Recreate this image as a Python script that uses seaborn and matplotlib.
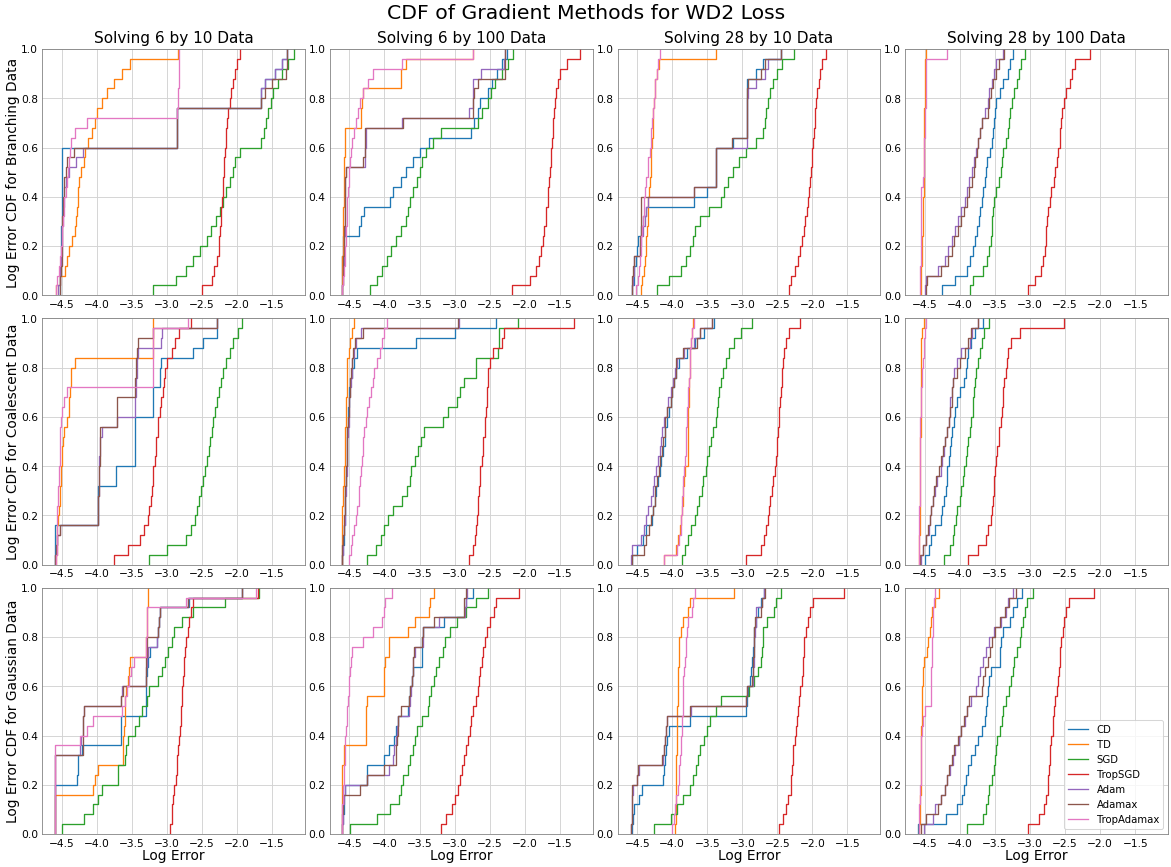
import matplotlib
matplotlib.use("Agg")
import matplotlib.pyplot as plt
import seaborn as sns
import pandas as pd

methods = ["CD", "TD", "SGD", "TropSGD", "Adam", "Adamax", "TropAdamax"]
colors = ["#1f77b4", "#ff7f0e", "#2ca02c", "#d62728", "#9467bd", "#8c564b", "#e377c2"]
col_titles = ["Solving 6 by 10 Data", "Solving 6 by 100 Data",
              "Solving 28 by 10 Data", "Solving 28 by 100 Data"]
row_labels = ["Log Error CDF for Branching Data", "Log Error CDF for Coalescent Data",
              "Log Error CDF for Gaussian Data"]
x_ticks = [-4.5, -4.0, -3.5, -3.0, -2.5, -2.0, -1.5]
y_ticks = [0.0, 0.2, 0.4, 0.6, 0.8, 1.0]

# ---------------- Branching data ----------------
branching_6x10 = dict(
    CD=[-4.52,-4.52,-4.52,-4.51,-4.51,-4.51,-4.51,-4.50,-4.50,-4.50,-4.50,-4.50,-4.50,-4.50,-4.50,-2.85,-2.85,-2.85,-2.85,-1.65,-1.65,-1.60,-1.45,-1.35,-1.28],
    TD=[-4.58,-4.52,-4.45,-4.42,-4.40,-4.35,-4.31,-4.30,-4.28,-4.27,-4.26,-4.25,-4.22,-4.18,-4.16,-4.12,-4.07,-4.03,-4.00,-3.93,-3.85,-3.75,-3.64,-3.53,-2.84],
    SGD=[-3.20,-2.87,-2.72,-2.62,-2.52,-2.43,-2.37,-2.30,-2.24,-2.20,-2.15,-2.10,-2.06,-2.02,-1.95,-1.65,-1.61,-1.58,-1.55,-1.51,-1.48,-1.42,-1.35,-1.27,-1.18],
    TropSGD=[-2.50,-2.35,-2.32,-2.29,-2.26,-2.25,-2.24,-2.23,-2.22,-2.21,-2.20,-2.195,-2.19,-2.18,-2.17,-2.16,-2.15,-2.14,-2.13,-2.10,-2.08,-2.06,-2.03,-2.00,-1.96],
    Adam=[-4.55,-4.53,-4.52,-4.51,-4.50,-4.50,-4.49,-4.48,-4.48,-4.47,-4.46,-4.44,-4.40,-4.30,-4.20,-2.85,-2.85,-2.85,-2.85,-1.65,-1.65,-1.60,-1.45,-1.35,-1.28],
    Adamax=[-4.53,-4.52,-4.51,-4.50,-4.50,-4.50,-4.49,-4.49,-4.48,-4.48,-4.47,-4.46,-4.44,-4.42,-4.33,-2.85,-2.85,-2.85,-2.85,-1.65,-1.60,-1.50,-1.30,-1.28,-1.28],
    TropAdamax=[-4.58,-4.56,-4.54,-4.52,-4.51,-4.50,-4.49,-4.48,-4.47,-4.46,-4.44,-4.43,-4.41,-4.40,-4.38,-4.36,-4.31,-4.14,-2.85,-2.84,-2.84,-2.83,-2.83,-2.82,-2.82],
)
branching_6x100 = dict(
    CD=[-4.60,-4.60,-4.60,-4.60,-4.59,-4.59,-4.36,-4.33,-4.29,-3.92,-3.88,-3.77,-3.69,-3.60,-3.50,-3.36,-2.76,-2.72,-2.67,-2.64,-2.52,-2.46,-2.40,-2.32,-2.25],
    TD=[-4.60,-4.60,-4.60,-4.60,-4.59,-4.59,-4.59,-4.59,-4.59,-4.58,-4.58,-4.58,-4.58,-4.58,-4.57,-4.57,-4.57,-4.33,-4.33,-4.32,-4.31,-3.77,-3.76,-3.70,-2.73],
    SGD=[-4.20,-4.10,-4.04,-3.97,-3.91,-3.84,-3.76,-3.70,-3.67,-3.64,-3.59,-3.54,-3.50,-3.46,-3.41,-3.31,-3.19,-2.66,-2.61,-2.52,-2.48,-2.43,-2.33,-2.24,-2.17],
    TropSGD=[-2.18,-1.92,-1.84,-1.79,-1.76,-1.74,-1.72,-1.70,-1.69,-1.67,-1.66,-1.65,-1.64,-1.63,-1.62,-1.61,-1.60,-1.59,-1.58,-1.57,-1.55,-1.53,-1.49,-1.40,-1.21],
    Adam=[-4.60,-4.59,-4.59,-4.58,-4.58,-4.58,-4.57,-4.57,-4.57,-4.56,-4.56,-4.56,-4.55,-4.28,-4.28,-4.27,-4.27,-3.75,-2.80,-2.74,-2.74,-2.73,-2.62,-2.30,-2.28],
    Adamax=[-4.60,-4.59,-4.59,-4.59,-4.58,-4.58,-4.58,-4.57,-4.57,-4.57,-4.56,-4.56,-4.55,-4.30,-4.28,-4.28,-4.28,-3.74,-2.73,-2.73,-2.72,-2.66,-2.28,-2.28,-2.28],
    TropAdamax=[-4.60,-4.59,-4.58,-4.57,-4.56,-4.55,-4.55,-4.54,-4.54,-4.53,-4.52,-4.51,-4.50,-4.49,-4.48,-4.46,-4.43,-4.41,-4.38,-4.35,-4.30,-4.24,-4.17,-3.75,-2.73],
)
branching_28x10 = dict(
    CD=[-4.57,-4.55,-4.54,-4.52,-4.51,-4.49,-4.45,-4.42,-4.37,-3.69,-3.50,-3.38,-3.38,-3.38,-3.38,-3.14,-2.93,-2.93,-2.93,-2.93,-2.93,-2.93,-2.80,-2.70,-2.45],
    TD=[-4.45,-4.43,-4.41,-4.39,-4.38,-4.37,-4.36,-4.35,-4.35,-4.34,-4.33,-4.32,-4.31,-4.31,-4.30,-4.29,-4.28,-4.28,-4.27,-4.26,-4.25,-4.24,-4.22,-4.19,-3.38],
    SGD=[-4.22,-4.05,-3.87,-3.80,-3.74,-3.70,-3.68,-3.60,-3.48,-3.31,-3.26,-3.21,-3.13,-3.05,-2.95,-2.80,-2.71,-2.68,-2.66,-2.64,-2.60,-2.56,-2.50,-2.43,-2.26],
    TropSGD=[-2.34,-2.30,-2.25,-2.21,-2.18,-2.15,-2.12,-2.10,-2.08,-2.07,-2.05,-2.04,-2.02,-2.01,-2.00,-1.99,-1.98,-1.97,-1.96,-1.95,-1.93,-1.91,-1.89,-1.86,-1.81],
    Adam=[-4.57,-4.56,-4.55,-4.54,-4.46,-4.44,-4.42,-4.39,-4.37,-4.35,-3.69,-3.38,-3.38,-3.38,-3.37,-2.94,-2.94,-2.93,-2.93,-2.93,-2.92,-2.80,-2.68,-2.64,-2.45],
    Adamax=[-4.58,-4.57,-4.56,-4.54,-4.46,-4.46,-4.45,-4.45,-4.44,-4.44,-3.69,-3.38,-3.38,-3.38,-3.38,-3.15,-2.94,-2.93,-2.93,-2.93,-2.93,-2.92,-2.73,-2.68,-2.45],
    TropAdamax=[-4.52,-4.49,-4.47,-4.46,-4.45,-4.44,-4.43,-4.42,-4.41,-4.40,-4.39,-4.37,-4.35,-4.34,-4.32,-4.31,-4.30,-4.29,-4.28,-4.26,-4.25,-4.24,-4.22,-4.20,-4.17],
)
branching_28x100 = dict(
    CD=[-4.26,-4.07,-3.90,-3.86,-3.81,-3.78,-3.76,-3.73,-3.71,-3.69,-3.67,-3.65,-3.63,-3.61,-3.57,-3.55,-3.53,-3.51,-3.50,-3.49,-3.43,-3.38,-3.32,-3.29,-3.24],
    TD=[-4.56,-4.55,-4.55,-4.54,-4.54,-4.54,-4.53,-4.53,-4.53,-4.53,-4.52,-4.52,-4.52,-4.51,-4.51,-4.51,-4.51,-4.51,-4.51,-4.50,-4.50,-4.50,-4.50,-4.50,-4.49],
    SGD=[-3.86,-3.81,-3.67,-3.62,-3.58,-3.56,-3.55,-3.54,-3.53,-3.52,-3.49,-3.45,-3.42,-3.40,-3.38,-3.35,-3.32,-3.30,-3.28,-3.26,-3.23,-3.19,-3.16,-3.13,-3.07],
    TropSGD=[-3.03,-2.93,-2.85,-2.82,-2.79,-2.78,-2.77,-2.76,-2.74,-2.72,-2.70,-2.66,-2.64,-2.62,-2.60,-2.58,-2.57,-2.56,-2.54,-2.52,-2.49,-2.43,-2.40,-2.36,-2.14],
    Adam=[-4.50,-4.48,-4.31,-4.21,-4.17,-4.11,-4.07,-4.03,-3.98,-3.93,-3.90,-3.87,-3.83,-3.80,-3.77,-3.74,-3.71,-3.68,-3.64,-3.60,-3.58,-3.55,-3.52,-3.48,-3.38],
    Adamax=[-4.49,-4.47,-4.27,-4.17,-4.12,-4.08,-4.03,-3.99,-3.94,-3.90,-3.87,-3.83,-3.80,-3.78,-3.76,-3.74,-3.72,-3.68,-3.60,-3.59,-3.56,-3.53,-3.49,-3.44,-3.37],
    TropAdamax=[-4.57,-4.57,-4.57,-4.56,-4.56,-4.56,-4.56,-4.56,-4.55,-4.55,-4.55,-4.53,-4.52,-4.52,-4.51,-4.51,-4.50,-4.50,-4.50,-4.49,-4.49,-4.49,-4.48,-4.48,-4.19],
)

# ---------------- Coalescent data ----------------
coalescent_6x10 = dict(
    CD=[-4.59,-4.59,-4.59,-4.59,-3.98,-3.98,-3.98,-3.98,-3.72,-3.72,-3.45,-3.45,-3.45,-3.45,-3.45,-3.20,-3.20,-3.20,-3.09,-3.09,-3.08,-2.62,-2.48,-2.29,-2.29],
    TD=[-4.58,-4.57,-4.56,-4.56,-4.55,-4.54,-4.53,-4.52,-4.51,-4.51,-4.50,-4.49,-4.48,-4.46,-4.43,-4.40,-4.39,-4.38,-4.37,-4.37,-4.31,-3.20,-3.20,-3.20,-3.20],
    SGD=[-3.25,-3.00,-2.72,-2.65,-2.60,-2.57,-2.54,-2.51,-2.48,-2.45,-2.43,-2.40,-2.38,-2.36,-2.34,-2.31,-2.28,-2.26,-2.23,-2.20,-2.16,-2.10,-2.05,-1.98,-1.92],
    TropSGD=[-3.75,-3.55,-3.38,-3.33,-3.27,-3.25,-3.23,-3.21,-3.20,-3.19,-3.17,-3.16,-3.15,-3.13,-3.12,-3.10,-3.08,-3.06,-3.04,-3.03,-2.99,-2.93,-2.88,-2.82,-2.66],
    Adam=[-4.59,-4.58,-4.56,-4.52,-3.98,-3.98,-3.98,-3.97,-3.97,-3.97,-3.97,-3.96,-3.96,-3.92,-3.71,-3.45,-3.45,-3.44,-3.44,-3.43,-3.42,-3.41,-3.08,-3.07,-2.29],
    Adamax=[-4.59,-4.58,-4.56,-4.52,-3.98,-3.98,-3.98,-3.97,-3.97,-3.97,-3.96,-3.96,-3.95,-3.95,-3.71,-3.71,-3.71,-3.45,-3.45,-3.44,-3.44,-3.43,-3.41,-3.20,-2.29],
    TropAdamax=[-4.58,-4.57,-4.57,-4.56,-4.56,-4.56,-4.55,-4.55,-4.54,-4.54,-4.53,-4.53,-4.52,-4.52,-4.51,-4.50,-4.47,-4.43,-3.20,-3.20,-3.20,-3.20,-3.19,-3.19,-2.70],
)
coalescent_6x100 = dict(
    CD=[-4.60,-4.59,-4.58,-4.58,-4.57,-4.57,-4.56,-4.56,-4.55,-4.55,-4.54,-4.54,-4.53,-4.53,-4.52,-4.52,-4.51,-4.50,-4.49,-4.47,-4.44,-4.39,-3.55,-3.00,-2.41],
    TD=[-4.61,-4.61,-4.60,-4.60,-4.60,-4.60,-4.59,-4.59,-4.58,-4.58,-4.57,-4.57,-4.56,-4.56,-4.55,-4.55,-4.55,-4.54,-4.54,-4.54,-4.53,-4.50,-4.49,-4.47,-4.44],
    SGD=[-4.25,-4.12,-4.05,-4.00,-3.95,-3.88,-3.75,-3.68,-3.64,-3.62,-3.56,-3.52,-3.48,-3.43,-3.16,-3.10,-2.97,-2.92,-2.87,-2.70,-2.69,-2.38,-2.37,-2.36,-2.09],
    TropSGD=[-2.79,-2.74,-2.71,-2.69,-2.68,-2.67,-2.66,-2.65,-2.64,-2.63,-2.61,-2.60,-2.59,-2.57,-2.56,-2.55,-2.54,-2.53,-2.52,-2.52,-2.50,-2.45,-2.33,-2.30,-1.29],
    Adam=[-4.60,-4.59,-4.59,-4.58,-4.57,-4.56,-4.56,-4.55,-4.55,-4.54,-4.54,-4.53,-4.53,-4.52,-4.51,-4.50,-4.50,-4.49,-4.48,-4.47,-4.46,-4.44,-4.41,-4.34,-2.93],
    Adamax=[-4.60,-4.60,-4.59,-4.58,-4.58,-4.57,-4.56,-4.56,-4.55,-4.55,-4.54,-4.54,-4.53,-4.53,-4.52,-4.51,-4.50,-4.49,-4.49,-4.48,-4.47,-4.45,-4.42,-4.30,-2.95],
    TropAdamax=[-4.50,-4.48,-4.46,-4.43,-4.41,-4.39,-4.37,-4.36,-4.35,-4.34,-4.32,-4.31,-4.30,-4.29,-4.27,-4.25,-4.22,-4.19,-4.17,-4.15,-4.11,-4.07,-4.03,-4.00,-3.96],
)
coalescent_28x10 = dict(
    CD=[-4.57,-4.50,-4.42,-4.38,-4.29,-4.27,-4.25,-4.23,-4.21,-4.18,-4.16,-4.13,-4.11,-4.10,-4.08,-4.05,-4.02,-4.00,-3.98,-3.95,-3.90,-3.79,-3.67,-3.55,-3.41],
    TD=[-4.12,-3.95,-3.92,-3.89,-3.87,-3.86,-3.85,-3.84,-3.83,-3.82,-3.78,-3.78,-3.78,-3.77,-3.77,-3.77,-3.76,-3.76,-3.76,-3.75,-3.75,-3.74,-3.73,-3.72,-3.70],
    SGD=[-3.86,-3.82,-3.77,-3.73,-3.67,-3.64,-3.62,-3.58,-3.56,-3.52,-3.50,-3.48,-3.45,-3.42,-3.38,-3.36,-3.35,-3.33,-3.30,-3.27,-3.24,-3.19,-3.12,-3.02,-2.86],
    TropSGD=[-2.95,-2.73,-2.69,-2.66,-2.64,-2.62,-2.61,-2.58,-2.56,-2.54,-2.52,-2.51,-2.50,-2.49,-2.48,-2.47,-2.46,-2.45,-2.44,-2.43,-2.42,-2.40,-2.38,-2.33,-2.17],
    Adam=[-4.59,-4.57,-4.44,-4.41,-4.37,-4.34,-4.30,-4.28,-4.26,-4.23,-4.20,-4.18,-4.16,-4.14,-4.12,-4.08,-4.06,-4.02,-3.99,-3.96,-3.93,-3.83,-3.69,-3.60,-3.43],
    Adamax=[-4.57,-4.40,-4.37,-4.33,-4.30,-4.28,-4.25,-4.24,-4.22,-4.19,-4.17,-4.15,-4.13,-4.11,-4.10,-4.07,-4.02,-4.00,-3.98,-3.95,-3.94,-3.85,-3.65,-3.60,-3.43],
    TropAdamax=[-4.12,-3.93,-3.90,-3.88,-3.87,-3.86,-3.86,-3.85,-3.84,-3.83,-3.82,-3.81,-3.81,-3.80,-3.79,-3.79,-3.78,-3.77,-3.76,-3.75,-3.74,-3.74,-3.73,-3.72,-3.69],
)
coalescent_28x100 = dict(
    CD=[-4.50,-4.44,-4.41,-4.36,-4.27,-4.25,-4.23,-4.20,-4.19,-4.18,-4.16,-4.15,-4.13,-4.11,-4.09,-4.07,-4.04,-4.00,-3.94,-3.92,-3.90,-3.88,-3.84,-3.78,-3.67],
    TD=[-4.58,-4.58,-4.58,-4.57,-4.57,-4.57,-4.57,-4.57,-4.57,-4.57,-4.57,-4.57,-4.57,-4.56,-4.56,-4.56,-4.56,-4.56,-4.56,-4.56,-4.55,-4.55,-4.55,-4.54,-4.52],
    SGD=[-4.23,-4.14,-4.10,-4.08,-4.06,-4.04,-4.00,-3.98,-3.96,-3.94,-3.92,-3.90,-3.88,-3.86,-3.84,-3.82,-3.81,-3.80,-3.79,-3.77,-3.74,-3.71,-3.68,-3.66,-3.59],
    TropSGD=[-3.88,-3.74,-3.63,-3.60,-3.56,-3.54,-3.53,-3.52,-3.51,-3.50,-3.48,-3.47,-3.45,-3.44,-3.41,-3.40,-3.39,-3.38,-3.37,-3.35,-3.33,-3.31,-3.27,-3.15,-2.51],
    Adam=[-4.56,-4.53,-4.48,-4.44,-4.43,-4.41,-4.39,-4.36,-4.33,-4.27,-4.25,-4.23,-4.21,-4.18,-4.16,-4.15,-4.14,-4.12,-4.10,-4.08,-4.05,-3.98,-3.86,-3.83,-3.75],
    Adamax=[-4.57,-4.53,-4.48,-4.46,-4.43,-4.41,-4.39,-4.37,-4.34,-4.30,-4.27,-4.24,-4.21,-4.19,-4.16,-4.14,-4.12,-4.11,-4.10,-4.04,-4.00,-3.93,-3.88,-3.84,-3.75],
    TropAdamax=[-4.59,-4.58,-4.58,-4.58,-4.58,-4.58,-4.57,-4.57,-4.57,-4.57,-4.57,-4.57,-4.57,-4.57,-4.57,-4.56,-4.55,-4.55,-4.54,-4.54,-4.53,-4.52,-4.51,-4.50,-4.48],
)

# ---------------- Gaussian data ----------------
gaussian_6x10 = dict(
    CD=[-4.59,-4.59,-4.59,-4.59,-4.59,-4.28,-4.27,-4.26,-4.21,-3.65,-3.65,-3.65,-3.30,-3.30,-3.29,-3.29,-3.28,-3.27,-3.24,-3.14,-3.12,-3.11,-3.10,-2.68,-1.93],
    TD=[-4.59,-4.59,-4.59,-4.59,-4.06,-4.03,-3.98,-3.63,-3.62,-3.62,-3.61,-3.60,-3.60,-3.59,-3.58,-3.56,-3.54,-3.52,-3.29,-3.29,-3.28,-3.28,-3.28,-3.27,-3.27],
    SGD=[-4.50,-4.18,-4.05,-3.98,-3.93,-3.70,-3.69,-3.60,-3.58,-3.56,-3.46,-3.40,-3.35,-3.28,-3.25,-3.13,-3.07,-3.02,-2.98,-2.93,-2.89,-2.78,-2.63,-2.17,-1.68],
    TropSGD=[-2.96,-2.93,-2.92,-2.91,-2.89,-2.87,-2.86,-2.85,-2.84,-2.82,-2.81,-2.80,-2.80,-2.79,-2.79,-2.77,-2.76,-2.75,-2.74,-2.72,-2.70,-2.68,-2.66,-2.62,-1.70],
    Adam=[-4.59,-4.59,-4.59,-4.59,-4.59,-4.59,-4.59,-4.59,-4.24,-4.22,-4.20,-4.19,-4.18,-3.65,-3.64,-3.29,-3.29,-3.28,-3.27,-3.14,-3.12,-3.11,-3.10,-2.70,-1.93],
    Adamax=[-4.59,-4.59,-4.59,-4.59,-4.59,-4.59,-4.59,-4.59,-4.20,-4.20,-4.19,-4.19,-4.18,-3.65,-3.62,-3.29,-3.29,-3.29,-3.28,-3.28,-3.12,-3.11,-3.10,-2.70,-1.93],
    TropAdamax=[-4.60,-4.60,-4.60,-4.60,-4.60,-4.60,-4.60,-4.60,-4.60,-4.24,-4.14,-4.06,-3.64,-3.60,-3.57,-3.54,-3.51,-3.47,-3.29,-3.29,-3.28,-3.28,-3.28,-2.72,-1.72],
)
gaussian_6x100 = dict(
    CD=[-4.60,-4.59,-4.58,-4.58,-4.57,-4.25,-4.25,-4.00,-3.94,-3.86,-3.84,-3.81,-3.66,-3.65,-3.63,-3.61,-3.59,-3.46,-3.46,-3.46,-3.45,-3.15,-2.85,-2.83,-2.74],
    TD=[-4.61,-4.61,-4.61,-4.61,-4.61,-4.61,-4.61,-4.58,-4.58,-4.26,-4.26,-4.26,-4.26,-4.25,-4.00,-4.00,-4.00,-3.99,-3.94,-3.93,-3.66,-3.57,-3.37,-3.35,-3.30],
    SGD=[-4.49,-4.10,-3.92,-3.79,-3.77,-3.73,-3.67,-3.64,-3.60,-3.57,-3.53,-3.46,-3.38,-3.37,-3.34,-3.29,-3.26,-3.22,-3.17,-3.13,-3.07,-2.96,-2.84,-2.69,-2.52],
    TropSGD=[-3.19,-3.12,-3.03,-2.99,-2.95,-2.92,-2.89,-2.86,-2.84,-2.81,-2.78,-2.76,-2.73,-2.69,-2.67,-2.65,-2.63,-2.61,-2.59,-2.57,-2.54,-2.49,-2.44,-2.41,-2.08],
    Adam=[-4.60,-4.59,-4.59,-4.58,-4.57,-4.25,-3.93,-3.88,-3.86,-3.84,-3.82,-3.81,-3.65,-3.64,-3.62,-3.61,-3.60,-3.59,-3.57,-3.45,-3.45,-3.22,-2.85,-2.84,-2.82],
    Adamax=[-4.60,-4.60,-4.59,-4.59,-4.35,-4.25,-4.00,-3.84,-3.83,-3.82,-3.81,-3.80,-3.76,-3.65,-3.63,-3.61,-3.60,-3.59,-3.58,-3.46,-3.45,-3.29,-2.87,-2.86,-2.84],
    TropAdamax=[-4.61,-4.60,-4.60,-4.59,-4.59,-4.58,-4.58,-4.57,-4.57,-4.56,-4.55,-4.54,-4.53,-4.52,-4.51,-4.50,-4.49,-4.48,-4.47,-4.30,-4.17,-4.03,-4.01,-3.99,-3.89],
)
gaussian_28x10 = dict(
    CD=[-4.57,-4.56,-4.54,-4.47,-4.43,-4.13,-4.12,-4.10,-4.09,-4.07,-4.05,-3.75,-2.95,-2.94,-2.92,-2.89,-2.87,-2.86,-2.85,-2.84,-2.83,-2.80,-2.77,-2.73,-2.69],
    TD=[-3.96,-3.95,-3.95,-3.95,-3.94,-3.94,-3.94,-3.94,-3.93,-3.93,-3.93,-3.93,-3.93,-3.92,-3.92,-3.92,-3.92,-3.91,-3.91,-3.90,-3.87,-3.84,-3.78,-3.74,-3.12],
    SGD=[-4.26,-4.02,-3.93,-3.84,-3.74,-3.70,-3.66,-3.63,-3.60,-3.55,-3.50,-3.46,-3.38,-3.31,-2.90,-2.84,-2.78,-2.74,-2.72,-2.71,-2.70,-2.65,-2.55,-2.52,-2.45],
    TropSGD=[-2.47,-2.42,-2.37,-2.35,-2.31,-2.30,-2.29,-2.28,-2.27,-2.25,-2.24,-2.22,-2.20,-2.19,-2.17,-2.15,-2.14,-2.13,-2.12,-2.12,-2.09,-2.06,-2.03,-1.99,-1.55],
    Adam=[-4.59,-4.58,-4.57,-4.57,-4.56,-4.50,-4.48,-4.13,-4.12,-4.10,-4.09,-4.08,-3.73,-2.95,-2.94,-2.85,-2.85,-2.84,-2.84,-2.83,-2.82,-2.81,-2.80,-2.72,-2.69],
    Adamax=[-4.59,-4.58,-4.58,-4.57,-4.57,-4.50,-4.49,-4.14,-4.12,-4.10,-4.09,-4.07,-3.74,-2.95,-2.94,-2.86,-2.85,-2.85,-2.84,-2.84,-2.83,-2.82,-2.74,-2.72,-2.68],
    TropAdamax=[-4.00,-3.98,-3.96,-3.94,-3.92,-3.91,-3.90,-3.89,-3.88,-3.87,-3.86,-3.86,-3.85,-3.85,-3.84,-3.84,-3.83,-3.82,-3.81,-3.80,-3.79,-3.77,-3.72,-3.70,-3.67],
)
gaussian_28x100 = dict(
    CD=[-4.60,-4.20,-4.04,-3.97,-3.95,-3.92,-3.89,-3.85,-3.78,-3.74,-3.68,-3.64,-3.63,-3.61,-3.60,-3.58,-3.56,-3.43,-3.43,-3.42,-3.38,-3.29,-3.24,-3.18,-3.12],
    TD=[-4.58,-4.57,-4.57,-4.57,-4.56,-4.56,-4.56,-4.55,-4.55,-4.55,-4.55,-4.54,-4.54,-4.54,-4.54,-4.53,-4.53,-4.52,-4.47,-4.45,-4.43,-4.41,-4.40,-4.36,-4.30],
    SGD=[-3.90,-3.67,-3.63,-3.60,-3.58,-3.54,-3.52,-3.50,-3.49,-3.47,-3.43,-3.40,-3.38,-3.35,-3.30,-3.27,-3.25,-3.23,-3.19,-3.15,-3.13,-3.10,-3.07,-3.05,-2.96],
    TropSGD=[-3.03,-2.88,-2.80,-2.77,-2.75,-2.74,-2.73,-2.72,-2.71,-2.70,-2.68,-2.67,-2.66,-2.65,-2.62,-2.60,-2.59,-2.58,-2.57,-2.56,-2.53,-2.51,-2.49,-2.45,-2.09],
    Adam=[-4.52,-4.38,-4.35,-4.27,-4.22,-4.18,-4.14,-4.10,-4.07,-4.02,-3.98,-3.93,-3.90,-3.85,-3.77,-3.74,-3.71,-3.67,-3.63,-3.58,-3.51,-3.42,-3.35,-3.31,-3.25],
    Adamax=[-4.55,-4.49,-4.32,-4.27,-4.22,-4.19,-4.16,-4.12,-4.08,-4.03,-3.98,-3.94,-3.90,-3.87,-3.69,-3.67,-3.65,-3.60,-3.57,-3.54,-3.50,-3.43,-3.36,-3.30,-3.20],
    TropAdamax=[-4.59,-4.58,-4.58,-4.57,-4.57,-4.56,-4.56,-4.56,-4.55,-4.55,-4.54,-4.53,-4.50,-4.42,-4.42,-4.41,-4.41,-4.40,-4.40,-4.40,-4.39,-4.38,-4.38,-4.37,-4.36],
)

panels = [
    [branching_6x10, branching_6x100, branching_28x10, branching_28x100],
    [coalescent_6x10, coalescent_6x100, coalescent_28x10, coalescent_28x100],
    [gaussian_6x10, gaussian_6x100, gaussian_28x10, gaussian_28x100],
]

fig, axes = plt.subplots(3, 4, figsize=(16, 11.85), dpi=73.2)
fig.subplots_adjust(left=0.0359, right=0.9974, top=0.943, bottom=0.038,
                    wspace=0.095, hspace=0.094)

for i, row in enumerate(panels):
    for j, panel in enumerate(row):
        ax = axes[i, j]
        frame = pd.DataFrame(
            [(m, v) for m in methods for v in panel[m]], columns=["method", "value"])
        for m, c in zip(methods, colors):
            sns.ecdfplot(data=frame[frame["method"] == m], x="value", ax=ax,
                         color=c, linewidth=1.3, label=m)
        ax.set_xlim(-4.78, -1.03)
        ax.set_ylim(0, 1)
        ax.set_xticks(x_ticks)
        ax.set_yticks(y_ticks)
        ax.tick_params(labelsize=10.5, length=0, pad=4)
        ax.grid(True, color="#d3d3d3", linewidth=0.9)
        ax.set_axisbelow(True)
        for s in ax.spines.values():
            s.set_color("#808080")
        ax.set_xlabel("Log Error" if i == 2 else "", fontsize=13.5, labelpad=0)
        ax.set_ylabel(row_labels[i] if j == 0 else "", fontsize=13.5, labelpad=1)
        if i == 0:
            ax.set_title(col_titles[j], fontsize=15)

axes[2, 3].legend(loc="lower right", fontsize=10)
fig.suptitle("CDF of Gradient Methods for WD2 Loss", fontsize=20, y=0.995)
fig.savefig("out.png", dpi=73.2)
